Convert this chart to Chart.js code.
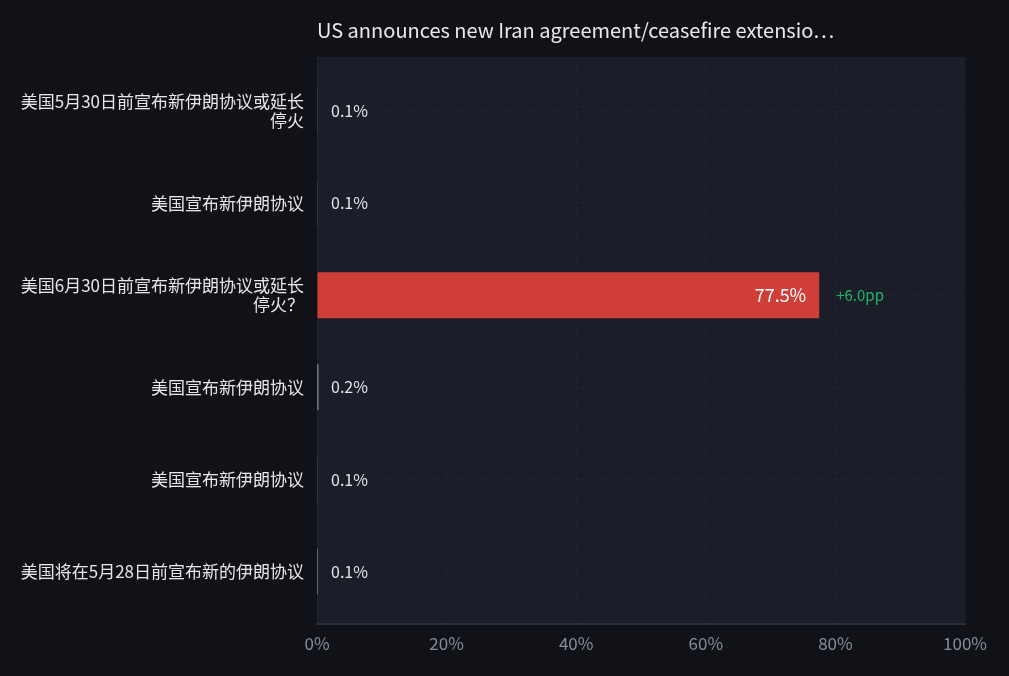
<!DOCTYPE html>
<html>
<head>
<meta charset="utf-8">
<script src="https://cdn.jsdelivr.net/npm/chart.js@4/dist/chart.umd.min.js"></script>
<style>
  html, body { margin: 0; padding: 0; background: #111217; }
  #wrap { width: 1009px; height: 676px; }
</style>
</head>
<body>
<div id="wrap"><canvas id="chart"></canvas></div>
<script>
// categories (wrapped the way they show on the picture)
const categories = [
    ['美国5月30日前宣布新伊朗协议或延长', '停火'],
    '美国宣布新伊朗协议',
    ['美国6月30日前宣布新伊朗协议或延长', '停火？'],
    '美国宣布新伊朗协议',
    '美国宣布新伊朗协议',
    '美国将在5月28日前宣布新的伊朗协议'
];
// shown as 0.1% but some of them are too thin to see on the picture
const probabilities = [0.06, 0.06, 77.5, 0.2, 0.06, 0.14];
const changes = [null, null, '+6.0pp', null, null, null];
const xTicks = [0, 20, 40, 60, 80, 100];
const highlightIndex = 2;
const titleText = 'US announces new Iran agreement/ceasefire extensio\u22EF';

const fontFamily = "'Noto Sans CJK SC', 'Noto Sans', sans-serif";

let barColors = probabilities.map((v, i) => i == highlightIndex ? '#cf3f37' : '#c8c9cf');
let points = probabilities.map((v, i) => ({ x: v, y: i }));

//plot background
const plotBg = {
    id: 'plotBg',
    beforeDraw(chart) {
        let ctx = chart.ctx;
        let a = chart.chartArea;
        ctx.save();
        ctx.fillStyle = '#1b1d28';
        ctx.fillRect(a.left, a.top, a.right - a.left, a.bottom - a.top);
        ctx.restore();
    }
};

//value labels + change labels
const valueLabels = {
    id: 'valueLabels',
    afterDatasetsDraw(chart) {
        let ctx = chart.ctx;
        let meta = chart.getDatasetMeta(0);
        let xScale = chart.scales.x;
        ctx.save();
        ctx.textBaseline = 'middle';
        meta.data.forEach((bar, i) => {
            let v = probabilities[i];
            let txt = v.toFixed(1) + '%';
            let y = bar.y;
            if (v > 10) {
                ctx.font = '18px ' + fontFamily;
                ctx.fillStyle = '#ffffff';
                ctx.textAlign = 'right';
                ctx.fillText(txt, bar.x - 13, y);
                if (changes[i]) {
                    ctx.font = '15px ' + fontFamily;
                    ctx.fillStyle = '#1fb56b';
                    ctx.textAlign = 'left';
                    ctx.fillText(changes[i], bar.x + 17, y);
                }
            } else {
                ctx.font = '16px ' + fontFamily;
                ctx.fillStyle = '#e4e5ea';
                ctx.textAlign = 'left';
                ctx.fillText(txt, xScale.getPixelForValue(0) + 14, y);
            }
        });
        ctx.restore();
    }
};

let chart = new Chart(document.getElementById('chart').getContext('2d'), {
    type: 'bar',
    data: {
        datasets: [{
            data: points,
            backgroundColor: barColors,
            borderWidth: 0,
            inflateAmount: 0,
            barThickness: 46
        }]
    },
    options: {
        indexAxis: 'y',
        responsive: true,
        maintainAspectRatio: false,
        animation: false,
        layout: { padding: { top: 0, right: 44, bottom: 12, left: 0 } },
        plugins: {
            legend: { display: false },
            tooltip: { enabled: false },
            title: {
                display: true,
                text: titleText,
                align: 'start',
                fullSize: false,
                color: '#e8e9ee',
                font: { family: fontFamily, size: 20, weight: 'normal', lineHeight: 1.2 },
                padding: { top: 18, bottom: 15 }
            }
        },
        scales: {
            x: {
                type: 'linear',
                min: 0,
                max: 100,
                afterBuildTicks(axis) {
                    axis.ticks = xTicks.map(v => ({ value: v }));
                },
                ticks: {
                    color: '#868b99',
                    font: { family: fontFamily, size: 17 },
                    padding: 10,
                    callback: v => v + '%'
                },
                grid: {
                    color: 'rgba(255,255,255,0.04)',
                    drawTicks: false
                },
                border: { display: true, color: '#2b2e3b', width: 2, dash: [3, 3] }
            },
            y: {
                type: 'linear',
                reverse: true,
                offset: false,
                min: -0.587,
                max: 5.565,
                afterFit(axis) { axis.width = 317; },
                afterBuildTicks(axis) {
                    axis.ticks = categories.map((c, i) => ({ value: i }));
                },
                ticks: {
                    color: '#e6e7ec',
                    font: { family: fontFamily, size: 17, lineHeight: 1.12 },
                    padding: 13,
                    callback: v => categories[v]
                },
                grid: {
                    offset: false,
                    color: 'rgba(255,255,255,0.04)',
                    drawTicks: false
                },
                border: { display: false, dash: [3, 3] }
            }
        }
    },
    plugins: [plotBg, valueLabels]
});
</script>
</body>
</html>
